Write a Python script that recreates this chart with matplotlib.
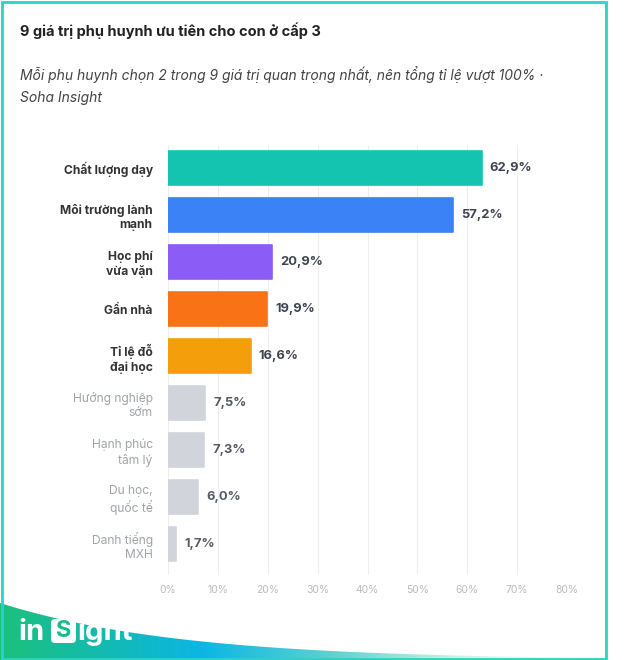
import numpy as np
import matplotlib
matplotlib.use("Agg")
import matplotlib.pyplot as plt
from matplotlib.patches import Polygon, FancyBboxPatch, Rectangle
from matplotlib.colors import LinearSegmentedColormap

plt.rcParams['font.family'] = ['Inter', 'DejaVu Sans']

# data
categories = ["Chất lượng dạy", "Môi trường lành\nmạnh", "Học phí\nvừa vặn", "Gần nhà",
              "Tỉ lệ đỗ\nđại học", "Hướng nghiệp\nsớm", "Hạnh phúc\ntâm lý",
              "Du học,\nquốc tế", "Danh tiếng\nMXH"]
values = [62.9, 57.2, 20.9, 19.9, 16.6, 7.5, 7.3, 6.0, 1.7]
bar_colors = ["#14C4B0", "#3B82F6", "#8B5CF6", "#F97316", "#F59E0B",
              "#D1D5DB", "#D1D5DB", "#D1D5DB", "#D1D5DB"]
highlight = [True, True, True, True, True, False, False, False, False]
xticks = [0, 10, 20, 30, 40, 50, 60, 70, 80]

title = "9 giá trị phụ huynh ưu tiên cho con ở cấp 3"
subtitle_lines = ["Mỗi phụ huynh chọn 2 trong 9 giá trị quan trọng nhất, nên tổng tỉ lệ vượt 100% ·",
                  "Soha Insight"]

W, H = 640, 660
fig = plt.figure(figsize=(W / 100, H / 100), dpi=100)
fig.patch.set_facecolor("white")

# background / decoration axes in pixel coords
bg = fig.add_axes([0, 0, 1, 1], zorder=0)
bg.set_xlim(0, W)
bg.set_ylim(H, 0)
bg.axis("off")

# bottom gradient swoosh
xs = np.linspace(0, 610, 200)
top = 660 - 57 * np.exp(-xs / 180)
verts = np.vstack([np.column_stack([xs, top]), [[610, 660], [0, 660]]])
clip = Polygon(verts, closed=True, facecolor="none", edgecolor="none", transform=bg.transData)
bg.add_patch(clip)
grad_cmap = LinearSegmentedColormap.from_list(
    "swoosh", [(0.0, "#1CC07C"), (0.33, "#0BB6E4"), (0.55, "#5FD3CF"),
               (0.75, "#CDF1E6"), (1.0, "#FFFFFF")])
gimg = np.linspace(0, 1, 400).reshape(1, -1)
im = bg.imshow(gimg, cmap=grad_cmap, extent=[0, 610, 660, 590], aspect="auto", zorder=1)
im.set_clip_path(clip)

# logo
bg.text(18, 632, "in", color="white", fontsize=21, fontweight="bold", va="center", ha="left", zorder=3)
bg.add_patch(FancyBboxPatch((51, 619), 25, 24, boxstyle="round,pad=0,rounding_size=4",
                            facecolor="white", edgecolor="none", zorder=3))
bg.text(63.5, 631, "S", color="#14BE8A", fontsize=17, fontweight="bold", va="center", ha="center", zorder=4)
bg.text(77, 632, "ight", color="white", fontsize=21, fontweight="bold", va="center", ha="left", zorder=3)

# card border
bg.add_patch(Rectangle((1.5, 1.5), 604, 657, facecolor="none", edgecolor="#2CD3C2", lw=2, zorder=5))

# titles
fig.text(20 / W, 1 - 31 / H, title, fontsize=10.5, fontweight="bold", color="#222222", va="center")
for i, line in enumerate(subtitle_lines):
    fig.text(20 / W, 1 - (75 + 23 * i) / H, line, fontsize=10, style="italic",
             color="#444444", va="center")

# main chart
ax = fig.add_axes([168 / W, 1 - 575 / H, (567 - 168) / W, (575 - 145) / H], zorder=2)
ax.patch.set_alpha(0)
y = np.arange(len(categories))
ax.barh(y, values, height=0.72, color=bar_colors, edgecolor=bar_colors, lw=1.2,
        joinstyle="round", zorder=2)
ax.set_xlim(0, 80)
ax.set_ylim(8.66, -0.49)
ax.set_xticks(xticks)
ax.set_xticklabels([f"{t}%" for t in xticks], color="#BBBBBB", fontsize=7.5)
ax.set_yticks(y)
ax.set_yticklabels(categories, fontsize=8.7, linespacing=1.25)
for lbl, hl in zip(ax.get_yticklabels(), highlight):
    if hl:
        lbl.set_fontweight("bold")
        lbl.set_color("#333333")
    else:
        lbl.set_color("#A0A4AA")
ax.tick_params(axis="both", length=0)
ax.tick_params(axis="y", pad=11)
ax.tick_params(axis="x", pad=7)
ax.grid(axis="x", color="#EEEEEE", lw=0.8, zorder=0)
for s in ax.spines.values():
    s.set_visible(False)

for yi, v, hl in zip(y, values, highlight):
    ax.text(v + 1.6, yi, f"{v:.1f}%".replace(".", ","), va="center", ha="left",
            fontsize=9.3, fontweight="bold", color="#3F4450" if hl else "#555B66")

fig.savefig("out.png", dpi=100, facecolor="white")
